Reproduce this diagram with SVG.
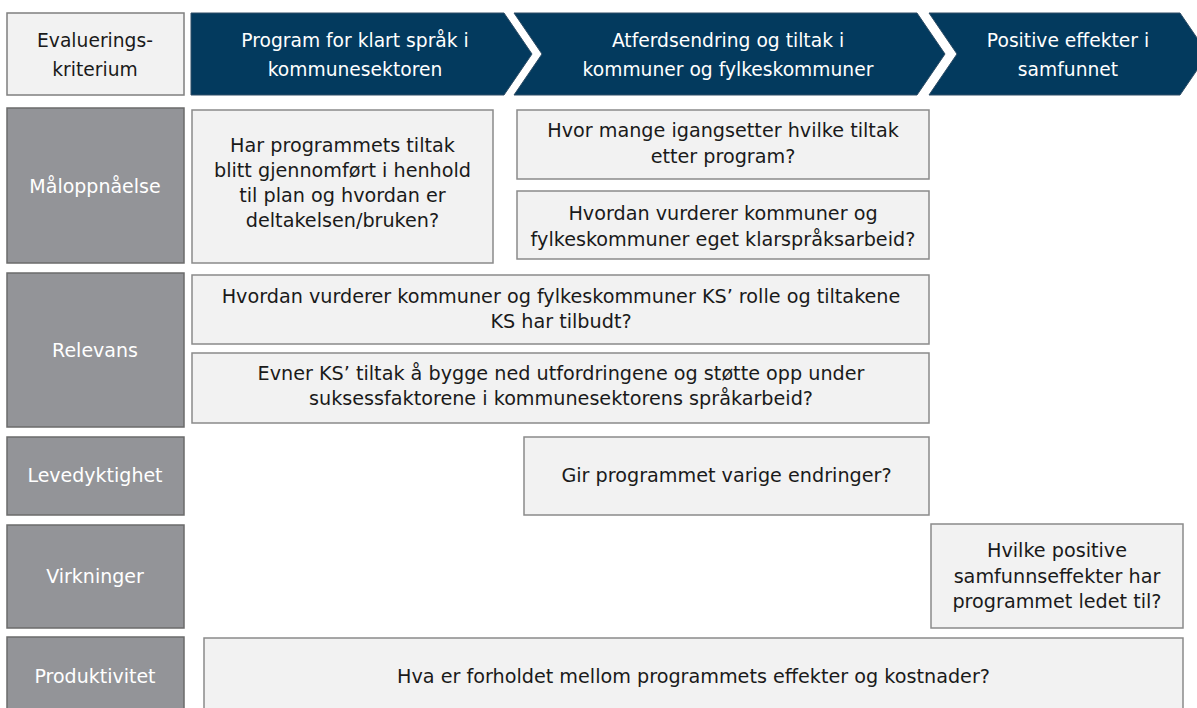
<svg xmlns="http://www.w3.org/2000/svg" width="1197" height="708" viewBox="0 0 1197 708">
<style>
  text { font-family: "DejaVu Sans", "Liberation Sans", sans-serif; text-anchor: middle; }
  .chev { fill: #033a5e; stroke: #2e4d66; stroke-width: 1; }
  .chev-t { fill: #ffffff; font-size: 18.7px; }
  .hdr { fill: #f2f2f2; stroke: #7f7f7f; stroke-width: 1.5; }
  .hdr-t { fill: #1a1a1a; font-size: 18.7px; }
  .lab { fill: #939498; stroke: #6b6b6b; stroke-width: 1.5; }
  .lab-t { fill: #ffffff; font-size: 19px; }
  .box { fill: #f2f2f2; stroke: #8a8a8a; stroke-width: 1.5; }
  .box-t { fill: #1a1a1a; font-size: 19.2px; }
</style>
<rect width="1197" height="708" fill="#ffffff"/>

<g id="header-kriterium">
  <rect class="hdr" x="7" y="13" width="177" height="82"/>
  <text class="hdr-t" x="95" y="47">Evaluerings-</text>
  <text class="hdr-t" x="95" y="76">kriterium</text>
</g>
<g id="stage-program">
  <polygon class="chev" points="191,13 504,13 532,54 504,95 191,95"/>
  <text class="chev-t" x="355" y="47">Program for klart språk i</text>
  <text class="chev-t" x="355" y="76">kommunesektoren</text>
</g>
<g id="stage-atferd">
  <polygon class="chev" points="514,13 917,13 945,54 917,95 514,95 542,54"/>
  <text class="chev-t" x="728" y="47">Atferdsendring og tiltak i</text>
  <text class="chev-t" x="728" y="76">kommuner og fylkeskommuner</text>
</g>
<g id="stage-effekter">
  <polygon class="chev" points="929,13 1180,13 1208,54 1180,95 929,95 957,54"/>
  <text class="chev-t" x="1068" y="47">Positive effekter i</text>
  <text class="chev-t" x="1068" y="76">samfunnet</text>
</g>

<g id="label-maloppnaelse">
  <rect class="lab" x="7" y="108" width="177" height="155"/>
  <text class="lab-t" x="95" y="193">Måloppnåelse</text>
</g>
<g id="label-relevans">
  <rect class="lab" x="7" y="273" width="177" height="154"/>
  <text class="lab-t" x="95" y="357">Relevans</text>
</g>
<g id="label-levedyktighet">
  <rect class="lab" x="7" y="437" width="177" height="78"/>
  <text class="lab-t" x="95" y="482">Levedyktighet</text>
</g>
<g id="label-virkninger">
  <rect class="lab" x="7" y="525" width="177" height="103"/>
  <text class="lab-t" x="95" y="583">Virkninger</text>
</g>
<g id="label-produktivitet">
  <rect class="lab" x="7" y="637" width="177" height="72"/>
  <text class="lab-t" x="95" y="683">Produktivitet</text>
</g>

<g id="q-gjennomfort">
  <rect class="box" x="192" y="110" width="301" height="153"/>
  <text class="box-t" x="342.5" y="152">Har programmets tiltak</text>
  <text class="box-t" x="342.5" y="177">blitt gjennomført i henhold</text>
  <text class="box-t" x="342.5" y="202">til plan og hvordan er</text>
  <text class="box-t" x="342.5" y="227">deltakelsen/bruken?</text>
</g>
<g id="q-hvor-mange">
  <rect class="box" x="517" y="110" width="412" height="69"/>
  <text class="box-t" x="723" y="137">Hvor mange igangsetter hvilke tiltak</text>
  <text class="box-t" x="723" y="163">etter program?</text>
</g>
<g id="q-eget-arbeid">
  <rect class="box" x="517" y="191" width="412" height="68"/>
  <text class="box-t" x="723" y="220">Hvordan vurderer kommuner og</text>
  <text class="box-t" x="723" y="246">fylkeskommuner eget klarspråksarbeid?</text>
</g>
<g id="q-ks-rolle">
  <rect class="box" x="192" y="275" width="737" height="69"/>
  <text class="box-t" x="561" y="303">Hvordan vurderer kommuner og fylkeskommuner KS’ rolle og tiltakene</text>
  <text class="box-t" x="561" y="328">KS har tilbudt?</text>
</g>
<g id="q-utfordringer">
  <rect class="box" x="192" y="353" width="737" height="70"/>
  <text class="box-t" x="561" y="380">Evner KS’ tiltak å bygge ned utfordringene og støtte opp under</text>
  <text class="box-t" x="561" y="405">suksessfaktorene i kommunesektorens språkarbeid?</text>
</g>
<g id="q-varige">
  <rect class="box" x="524" y="437" width="405" height="78"/>
  <text class="box-t" x="726.5" y="482">Gir programmet varige endringer?</text>
</g>
<g id="q-samfunn">
  <rect class="box" x="931" y="524" width="252" height="104"/>
  <text class="box-t" x="1057" y="557">Hvilke positive</text>
  <text class="box-t" x="1057" y="583">samfunnseffekter har</text>
  <text class="box-t" x="1057" y="608">programmet ledet til?</text>
</g>
<g id="q-kostnader">
  <rect class="box" x="204" y="638" width="979" height="72"/>
  <text class="box-t" x="693.5" y="683">Hva er forholdet mellom programmets effekter og kostnader?</text>
</g>
</svg>
